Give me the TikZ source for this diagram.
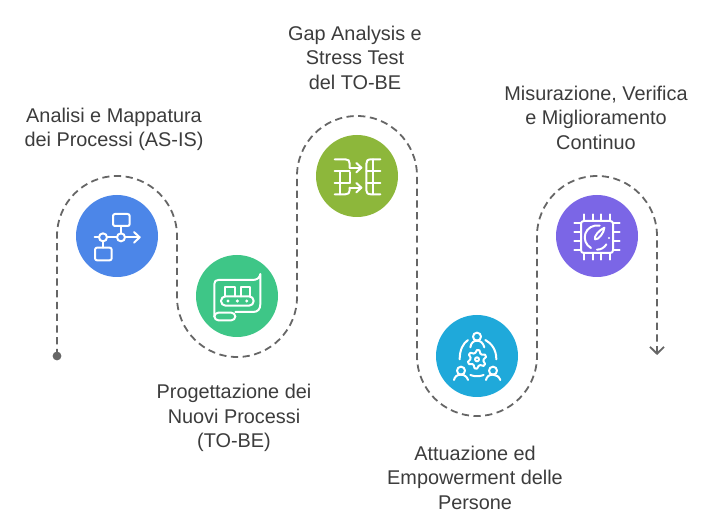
\documentclass[tikz,border=0pt]{standalone}
\usepackage{fontspec}
\setmainfont{Liberation Sans}
\usepackage{xcolor}
\usepackage{tikz}
\usetikzlibrary{positioning,arrows.meta,calc}
\definecolor{flowc}{HTML}{4C86E8}
\definecolor{scrollc}{HTML}{3EC687}
\definecolor{gapc}{HTML}{8DB73B}
\definecolor{peoplec}{HTML}{1FA9DA}
\definecolor{chipc}{HTML}{7B66E6}
\definecolor{trailc}{HTML}{666666}
\definecolor{labelc}{HTML}{3C3C3C}
\tikzset{
  badge/.style={circle,minimum size=61.5pt,inner sep=0pt},
  steplabel/.style={align=center,text=labelc,font=\fontsize{14.9pt}{18.4pt}\selectfont,inner sep=0pt},
  trail/.style={trailc,line width=1.35pt,dash pattern=on 5.4pt off 3.4pt},
  iconat/.style n args={3}{shift={(#1.center)},x=0.25pt,y=-0.25pt,shift={(-#2,-#3)},
    white,line width=1.5pt,line cap=round,line join=round},
}
\newcommand{\iconflow}[1]{%
  \begin{scope}[iconat={#1}{230}{198}]
    \draw[rounded corners=1.5pt] (218,132) rectangle (268,168);
    \draw[rounded corners=1.5pt] (164,233) rectangle (214,271);
    \draw (188,202) circle (12);
    \draw (242,202) circle (12);
    \draw (163,202) -- (176,202) (200,202) -- (230,202) (254,202) -- (298,202);
    \draw (281,186) -- (298,202) -- (281,218);
    \draw (242,168) -- (242,190) (188,214) -- (188,233);
  \end{scope}
}
\newcommand{\iconscroll}[1]{%
  \begin{scope}[iconat={#1}{590}{378}]
    \draw (522,440) -- (522,342) .. controls (522,334) and (526,330) .. (534,330) -- (636,330)
      .. controls (650,330) and (658,324) .. (660,312) -- (660,402)
      .. controls (660,418) and (652,426) .. (638,426) -- (585,426);
    \draw[rounded corners=3pt] (522,428) -- (522,451) -- (585,451) -- (585,428) -- cycle;
    \draw[rounded corners=3.4pt] (542,379) rectangle (640,407);
    \foreach \dotx in {563,591,619}
      \fill (\dotx,393) circle (5);
    \draw (555,379) -- (555,352) -- (585,352) -- (585,379);
    \draw (603,379) -- (603,352) -- (630,352) -- (630,379);
  \end{scope}
}
\newcommand{\icongap}[1]{%
  \begin{scope}[iconat={#1}{200}{197}]
    % left table
    \draw (133,147) -- (165,147) .. controls (174,147) and (178,151) .. (178,160) -- (178,172);
    \draw (133,252) -- (165,252) .. controls (174,252) and (178,248) .. (178,240) -- (178,232);
    \draw (178,186) -- (178,218);
    \draw (133,183) -- (178,183) (133,217) -- (178,217);
    \draw (148,183) -- (148,252);
    \draw (178,172) -- (213,172) (178,232) -- (213,232);
    \draw (198,158) -- (213,172) -- (198,186) (198,218) -- (213,232) -- (198,246);
    % right table
    \draw (270,147) -- (242,147) .. controls (232,147) and (228,151) .. (228,160) -- (228,240)
      .. controls (228,248) and (232,252) .. (242,252) -- (270,252);
    \draw (228,183) -- (270,183) (228,217) -- (270,217);
    \draw (248,147) -- (248,252);
  \end{scope}
}
\newcommand{\iconpeople}[1]{%
  \begin{scope}[iconat={#1}{170}{168}]
    \draw (170,110) circle (12) (122,212) circle (12) (218,212) circle (12);
    \draw (150,142) .. controls (152,128) and (160,122) .. (170,122) .. controls (180,122) and (188,128) .. (192,142);
    \draw (101,240) .. controls (103,230) and (110,224) .. (122,224) .. controls (132,224) and (140,230) .. (143,240);
    \draw (197,240) .. controls (199,230) and (206,224) .. (218,224) .. controls (228,224) and (236,230) .. (240,240);
    \draw (143,120) .. controls (128,130) and (118,150) .. (118,178);
    \draw (195,120) .. controls (214,130) and (228,150) .. (228,178);
    \draw (150,225) .. controls (162,230) and (178,230) .. (190,225);
    % gear
    \draw (170,178) circle (6);
    \draw plot[samples at={0,15,...,345},variable=\gearang]
      ({170+(mod(\gearang+15,60)<30?28:20)*sin(\gearang)},{178+(mod(\gearang+15,60)<30?28:20)*cos(\gearang)}) -- cycle;
  \end{scope}
}
\newcommand{\iconchip}[1]{%
  \begin{scope}[iconat={#1}{200}{197}]
    \draw[rounded corners=2pt] (152,152) rectangle (248,248);
    \foreach \pinpos in {160,187,213,240} {
      \draw (\pinpos,132) -- (\pinpos,152) (\pinpos,248) -- (\pinpos,268);
    }
    \foreach \pinpos in {158,185,212,240} {
      \draw (132,\pinpos) -- (152,\pinpos) (248,\pinpos) -- (268,\pinpos);
    }
    \draw (182,233) .. controls (166,224) and (160,206) .. (165,190) .. controls (170,174) and (188,162) .. (208,166);
    \draw (200,238) .. controls (212,238) and (222,232) .. (228,222);
    \draw (194,207) .. controls (190,198) and (206,180) .. (222,172) .. controls (222,186) and (204,210) .. (194,207);
    \fill (236,203) circle (3.5);
  \end{scope}
}

\begin{document}
\begin{tikzpicture}[x=0.75pt,y=0.75pt]
  \useasboundingbox (0,0) rectangle (717,514);
  % winding trail
  \node[circle,fill=trailc,minimum size=6.6pt,inner sep=0pt] (startdot) at (57,158) {};
  \coordinate (trailend) at (657,159);
  \draw[trail,-{Straight Barb[length=5.2pt,width=10.5pt,line width=1.35pt]}] (startdot.center) -- (57,278)
    arc[start angle=180,end angle=0,radius=60] -- (177,217)
    arc[start angle=180,end angle=360,radius=60] -- (297,338)
    arc[start angle=180,end angle=0,radius=60] -- (417,158)
    arc[start angle=180,end angle=360,radius=60] -- (537,278)
    arc[start angle=180,end angle=0,radius=60] -- (trailend);
  % badges
  \node[badge,fill=flowc] (flow) at (117,278) {};
  \node[badge,fill=scrollc] (scroll) at (237,218) {};
  \node[badge,fill=gapc] (gap) at (357,338) {};
  \node[badge,fill=peoplec] (people) at (477,158) {};
  \node[badge,fill=chipc] (chip) at (597,278) {};
  \iconflow{flow}
  \iconscroll{scroll}
  \icongap{gap}
  \iconpeople{people}
  \iconchip{chip}
  % labels
  \node[steplabel] (flowlabel) at (114,384.5) {Analisi e Mappatura\\dei Processi (AS-IS)};
  \node[steplabel] (scrolllabel) at (234,96) {Progettazione dei\\Nuovi Processi\\(TO-BE)};
  \node[steplabel] (gaplabel) at (355,456.5) {Gap Analysis e\\Stress Test\\del TO-BE};
  \node[steplabel] (peoplelabel) at (475,36.5) {Attuazione ed\\Empowerment delle\\Persone};
  \node[steplabel] (chiplabel) at (596,396.5) {Misurazione, Verifica\\e Miglioramento\\Continuo};
\end{tikzpicture}
\end{document}
